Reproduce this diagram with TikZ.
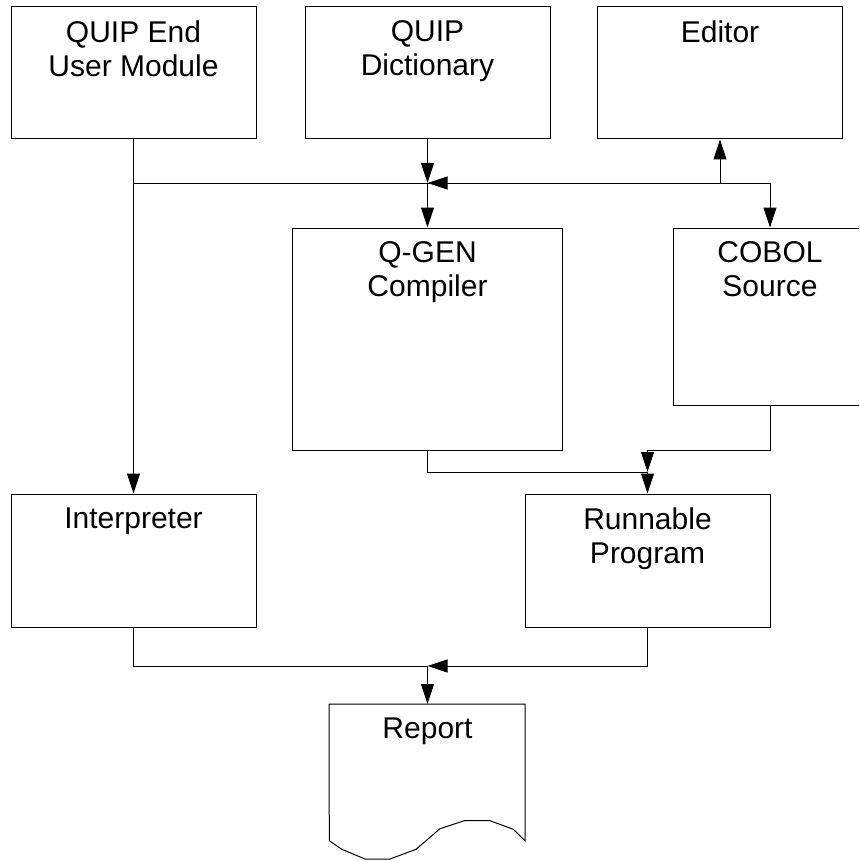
\documentclass[tikz,border=0pt]{standalone}
\usepackage{fontspec}
\setmainfont{Liberation Sans}
\usetikzlibrary{arrows.meta,calc}

\begin{document}
\begin{tikzpicture}[x=1pt,y=-1pt,>={Triangle[length=20pt,width=13pt]},line width=1pt,
  box/.style={draw,minimum width=245pt,minimum height=132pt,inner sep=0pt},
  lbl/.style={anchor=north,yshift=-13.5pt,inner sep=0pt,align=center,
    font=\fontsize{30}{34}\selectfont}]
\useasboundingbox (0,0) rectangle (859,861);
\path[clip] (0,0) rectangle (859,861);
% top row
\node[box] (quip) at (133.5,73) {};
\node[lbl] (quiptxt) at (quip.north) {QUIP End\\User Module};
\node[box] (dict) at (427.5,73) {};
\node[lbl] (dicttxt) at (dict.north) {QUIP\\Dictionary};
\node[box] (editor) at (720,73) {};
\node[lbl] (editortxt) at (editor.north) {Editor};
% middle
\node[box,minimum width=270pt,minimum height=222pt] (qgen) at (427.5,339) {};
\node[lbl] (qgentxt) at (qgen.north) {Q-GEN\\Compiler};
\node[box,minimum width=194pt,minimum height=177pt] (cobol) at (770,316.5) {};
\node[lbl] (coboltxt) at (cobol.north) {COBOL\\Source};
\node[box,minimum height=133pt] (interp) at (133.5,560.5) {};
\node[lbl] (interptxt) at (interp.north) {Interpreter};
\node[box,minimum height=133pt] (run) at (647.5,560.5) {};
\node[lbl] (runtxt) at (run.north) {Runnable\\Program};
% report
\draw (329,704) -- (525,704) -- (525,840.7) -- (513.3,829.3) -- (490,820.7)
  -- (464.3,820.7) -- (440,828.7) -- (416,849.3) -- (390,859) -- (365,859)
  -- (341.7,849.3) -- (329.3,840.7) -- cycle;
\coordinate (report) at (427.5,704);
\node[lbl] (reporttxt) at (report) {Report};
% connectors
\coordinate (hub) at (427.5,183);
\draw[->] (quip.south) -- (interp.north);
\draw[->] (quip.south |- hub) -| (cobol.north);
\draw[->] (dict.south) -- (hub);
\draw[->] (hub) -- (qgen.north);
\draw[->] (editor.south |- hub) -- (hub);
\draw[->] (editor.south |- hub) -- (editor.south);
\coordinate (merge) at (647.5,472);
\draw[->] (qgen.south) |- (merge) -- (run.north);
\draw[->] (cobol.south) -- ++(0,45) -| (merge);
\coordinate (collect) at (427.5,666);
\draw (interp.south) |- (collect);
\draw[->] (run.south) |- (collect);
\draw[->] (collect) -- (report);
\end{tikzpicture}
\end{document}
